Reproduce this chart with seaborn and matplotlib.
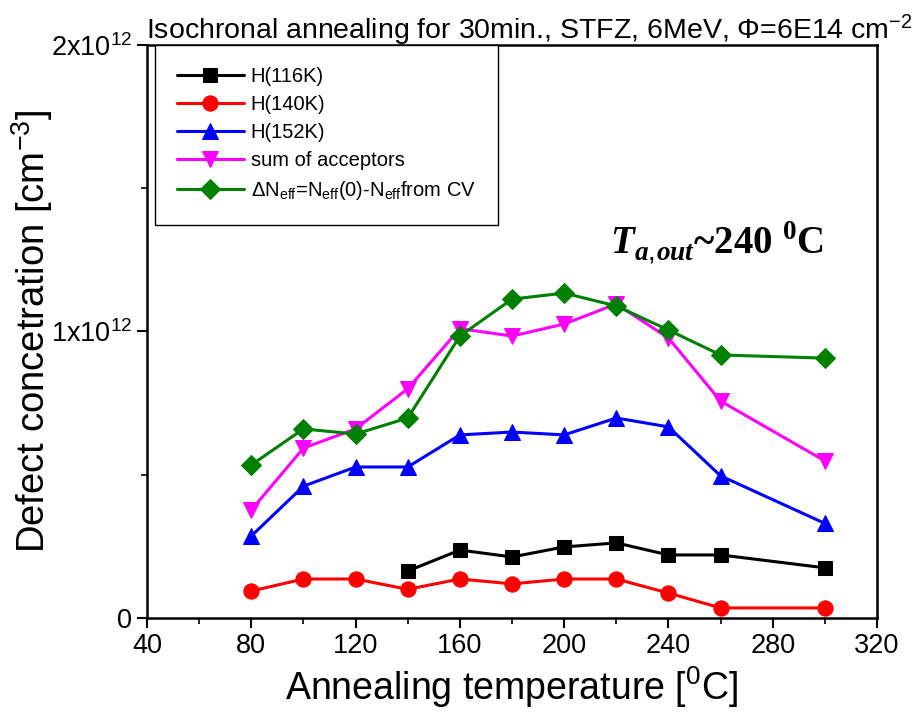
import matplotlib
matplotlib.use("Agg")
import matplotlib.pyplot as plt
import matplotlib.ticker as mticker
import seaborn as sns

# annealing temperatures [C]
temp = [80, 100, 120, 140, 160, 180, 200, 220, 240, 260, 300]
temp_h116 = [140, 160, 180, 200, 220, 240, 260, 300]

# defect concentrations [cm^-3], in units of 1e12
h116 = [0.164, 0.237, 0.213, 0.248, 0.262, 0.220, 0.220, 0.175]
h140 = [0.094, 0.136, 0.136, 0.100, 0.136, 0.119, 0.136, 0.136, 0.087, 0.035, 0.035]
h152 = [0.286, 0.460, 0.527, 0.527, 0.639, 0.649, 0.639, 0.698, 0.667, 0.496, 0.330]
acc_sum = [0.377, 0.593, 0.660, 0.800, 1.010, 0.984, 1.026, 1.096, 0.977, 0.757, 0.548]
delta_neff = [0.534, 0.660, 0.642, 0.698, 0.984, 1.113, 1.134, 1.089, 1.005, 0.918, 0.907]

sns.set_style("ticks", {"axes.edgecolor": "black", "text.color": "black",
                        "axes.labelcolor": "black", "xtick.color": "black",
                        "ytick.color": "black"})
plt.rcParams["font.family"] = ["Liberation Sans", "DejaVu Sans"]
plt.rcParams["mathtext.fontset"] = "custom"
plt.rcParams["mathtext.rm"] = "Liberation Sans"
plt.rcParams["mathtext.it"] = "Liberation Sans:italic"
plt.rcParams["mathtext.bf"] = "Liberation Serif:bold"
plt.rcParams["mathtext.bfit"] = "Liberation Serif:bold:italic"

fig = plt.figure(figsize=(9.16, 7.21), dpi=100)
ax = fig.add_axes([0.1605, 0.1429, 0.797, 0.7947])

series = [
    (temp_h116, h116, "k", "s", 10, "H(116K)"),
    (temp, h140, "#ff0000", "o", 11, "H(140K)"),
    (temp, h152, "#0000ff", "^", 12, "H(152K)"),
    (temp, acc_sum, "#ff00ff", "v", 12, "sum of acceptors"),
    (temp, delta_neff, "#008000", "D", 10,
     r"$\Delta$N$_{\mathrm{eff}}$=N$_{\mathrm{eff}}$(0)-N$_{\mathrm{eff}}$from CV"),
]
for xs, ys, col, mk, ms, lab in series:
    sns.lineplot(x=xs, y=[v * 1e12 for v in ys], ax=ax, color=col, marker=mk,
                 markersize=ms, markeredgecolor=col, linewidth=2.2, label=lab)

ax.set_xlim(40, 320)
ax.set_ylim(0, 2e12)
ax.xaxis.set_major_locator(mticker.MultipleLocator(40))
ax.xaxis.set_minor_locator(mticker.MultipleLocator(20))
ax.yaxis.set_major_locator(mticker.MultipleLocator(1e12))
ax.yaxis.set_minor_locator(mticker.MultipleLocator(0.5e12))


def yfmt(v, pos):
    if v == 0:
        return "0"
    return r"%dx10$^{12}$" % round(v / 1e12)


ax.yaxis.set_major_formatter(mticker.FuncFormatter(yfmt))
ax.tick_params(which="major", direction="out", length=7, width=1.5, labelsize=19.5)
ax.tick_params(which="minor", direction="out", length=4, width=1.2)
for sp in ax.spines.values():
    sp.set_linewidth(1.8)

ax.set_xlabel(r"Annealing temperature [$^{0}$C]", fontsize=27, labelpad=4)
ax.set_ylabel(r"Defect concetration [cm$^{-3}$]", fontsize=27.5, va="center")
ax.yaxis.set_label_coords(-0.157, 0.5)

fig.text(0.578, 0.958, r"Isochronal annealing for 30min., STFZ, 6MeV, $\Phi$=6E14 cm$^{-2}$",
         ha="center", va="center", fontsize=20.5)

ax.text(0.634, 0.655, r"$\mathbfit{T}_{\mathbfit{a},\!\mathbfit{out}}$~240 $^{\mathbf{0}}$C",
        transform=ax.transAxes, ha="left", va="center", fontsize=28,
        fontweight="bold", family="Liberation Serif")

leg = ax.legend(loc="upper left", bbox_to_anchor=(0.011, 1.0), fontsize=14.5,
                frameon=True, fancybox=False, edgecolor="black", borderpad=1.1,
                handlelength=3.3, handletextpad=0.35, labelspacing=0.45,
                borderaxespad=0)
leg.get_frame().set_linewidth(1.0)
leg.get_frame().set_alpha(1)

fig.savefig("out.png", dpi=100)
